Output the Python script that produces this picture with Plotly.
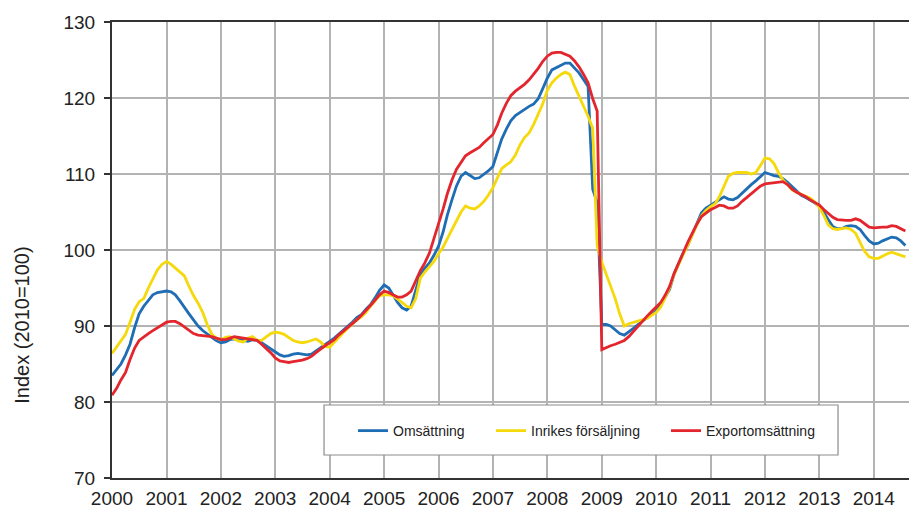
import pandas as pd
import plotly.graph_objects as go

months = pd.date_range("2000-01-01", "2014-08-01", freq="MS")

omsattning = [
    83.5, 84.3, 85.0, 86.2, 87.6, 89.8, 91.6, 92.6, 93.4, 94.1, 94.4, 94.5,
    94.6, 94.5, 94.1, 93.3, 92.4, 91.6, 90.8, 90.0, 89.4, 88.9, 88.5, 88.1,
    87.8, 87.9, 88.2, 88.3, 88.2, 88.0, 88.0, 88.2, 88.1, 87.8, 87.4, 87.0,
    86.6, 86.2, 86.0, 86.1, 86.3, 86.4, 86.3, 86.2, 86.3, 86.7, 87.1, 87.6,
    88.0, 88.4, 88.9, 89.4, 89.9, 90.5, 91.1, 91.5, 92.2, 92.8, 93.7, 94.7,
    95.4, 95.0, 94.1, 93.1, 92.4, 92.1, 92.6, 94.6, 96.8, 97.6, 98.3, 99.3,
    100.5, 102.4, 104.6, 106.6, 108.4, 109.7, 110.2, 109.8, 109.4, 109.5, 109.9, 110.4,
    111.0, 112.8, 114.6, 115.9, 117.0, 117.7, 118.1, 118.5, 118.9, 119.2, 119.9, 121.2,
    122.6, 123.7, 124.0, 124.3, 124.6, 124.6, 124.0, 123.3, 122.4, 121.5, 108.0, 106.2,
    90.2, 90.2, 90.0, 89.5, 89.0, 88.8, 89.2, 89.7, 90.2, 90.7, 91.1, 91.5,
    92.0, 92.8, 93.7, 94.8, 96.8, 98.3, 99.6, 100.6, 102.0, 103.5, 104.9, 105.5,
    105.9, 106.3, 106.7, 107.0, 106.7, 106.6, 106.9, 107.5, 108.1, 108.6, 109.1, 109.7,
    110.2, 110.0, 109.8, 109.7, 109.4, 108.9, 108.3, 107.7, 107.2, 106.9, 106.6, 106.2,
    105.7, 104.9, 104.0, 103.1, 102.8, 102.8, 103.1, 103.2, 103.1, 102.7, 101.9, 101.2,
    100.8, 100.9, 101.2, 101.5, 101.7, 101.6, 101.2, 100.6,
]

inrikes = [
    86.4, 87.2, 88.1, 88.9, 90.5, 92.2, 93.2, 93.6, 95.0, 96.2, 97.4, 98.1,
    98.5, 98.1, 97.6, 97.1, 96.6, 95.2, 94.0, 93.0, 91.8, 90.2, 88.9, 88.4,
    88.2, 88.5, 88.6, 88.3, 88.0, 87.9, 88.4, 88.6, 88.1, 88.1, 88.5, 89.0,
    89.2, 89.1, 88.9, 88.5, 88.1, 87.9, 87.8, 87.9, 88.1, 88.3, 87.9, 87.3,
    87.2, 87.8, 88.4, 89.1, 89.7, 90.3, 90.8, 91.2, 91.8, 92.6, 93.3, 94.0,
    94.1, 94.1, 94.0, 93.6, 93.1, 92.6, 92.4, 93.6, 96.3, 97.1, 97.8, 98.5,
    99.5, 100.4, 101.5, 102.7, 103.9, 105.0, 105.8, 105.5, 105.4, 105.8, 106.4, 107.2,
    108.2, 109.6, 110.7, 111.2, 111.6, 112.5, 113.8, 114.8, 115.4, 116.5, 117.8, 119.2,
    121.0, 122.0, 122.6, 123.1, 123.4, 123.1, 121.6, 120.3, 118.9, 117.6, 116.0, 100.6,
    98.4, 96.8, 95.3, 93.6, 91.6, 90.0, 90.3, 90.5, 90.6, 90.8, 91.0, 91.4,
    91.8, 92.5, 93.6, 95.0, 96.8, 98.2, 99.4, 100.6, 102.0, 103.3, 104.5, 105.2,
    105.7, 106.1, 107.0, 108.5, 109.7, 110.1, 110.2, 110.2, 110.2, 110.0, 110.2, 111.1,
    112.1, 112.0, 111.4, 110.2, 109.2, 108.6, 107.9, 107.6, 107.3, 107.1, 106.8, 106.3,
    105.6, 104.5, 103.3, 102.8, 102.7, 102.8, 102.9, 102.7, 102.2, 101.0, 99.8, 99.1,
    98.9, 98.9, 99.2, 99.5, 99.7, 99.5, 99.3, 99.1,
]

export = [
    80.9, 81.8, 82.9, 83.9, 85.6, 87.1, 88.1, 88.6, 89.0, 89.4, 89.8, 90.2,
    90.5, 90.6, 90.6, 90.3, 89.9, 89.5, 89.0, 88.8, 88.7, 88.7, 88.6, 88.4,
    88.2, 88.2, 88.4, 88.6, 88.5, 88.4, 88.4, 88.3, 88.1, 87.6, 87.1, 86.5,
    85.8, 85.4, 85.3, 85.2, 85.3, 85.4, 85.5, 85.7, 86.0, 86.5, 87.0, 87.4,
    87.8, 88.2, 88.8, 89.3, 89.8, 90.3, 90.8, 91.4, 92.0, 92.7, 93.4, 94.1,
    94.6, 94.4, 94.1, 93.8, 93.8, 94.1, 94.6, 95.9, 97.3, 98.3, 99.6, 101.5,
    103.4, 105.4, 107.4, 109.2, 110.6, 111.6, 112.4, 112.8, 113.2, 113.5, 114.1, 114.6,
    115.2, 116.5, 118.0, 119.3, 120.3, 120.9, 121.3, 121.8, 122.4, 123.1, 123.9, 124.8,
    125.5, 125.9, 126.0, 126.0, 125.8, 125.5, 124.9, 124.1, 123.1, 122.0, 119.9, 118.3,
    86.9, 87.2, 87.4, 87.6, 87.8, 88.1, 88.6, 89.3, 89.9, 90.6, 91.3, 91.9,
    92.5, 93.1, 94.0, 95.2, 96.9, 98.2, 99.6, 101.0, 102.3, 103.4, 104.4, 104.9,
    105.3, 105.6, 105.9, 105.8, 105.5, 105.5, 105.8, 106.4, 106.9, 107.5, 108.0, 108.4,
    108.7, 108.8, 108.9, 109.0, 109.0, 108.6, 108.0, 107.6, 107.3, 107.0, 106.6, 106.3,
    105.9, 105.3, 104.8, 104.3, 104.0, 103.9, 103.9, 103.9, 104.1, 103.9, 103.5, 103.0,
    102.9, 103.0, 103.0, 103.0, 103.2, 103.1, 102.8, 102.5,
]

series_names = ["Omsättning", "Inrikes försäljning", "Exportomsättning"]
series_values = [omsattning, inrikes, export]
series_colors = ["#1f6db5", "#f5d90a", "#e3262e"]

y_ticks = [70, 80, 90, 100, 110, 120, 130]
y_title = "Index (2010=100)"

legend_ids = ["legend", "legend2", "legend3"]
legend_x = [0.2994, 0.4708, 0.6882]

fig = go.Figure()
for name, vals, col, lid in zip(series_names, series_values, series_colors, legend_ids):
    fig.add_trace(go.Scatter(x=months, y=vals, mode="lines", name=name, legend=lid,
                             line=dict(color=col, width=2.8, shape="linear")))

font_main = "Liberation Sans, Arial, sans-serif"

legend_style = dict(orientation="h", xanchor="left", y=0.103, yanchor="middle",
                    bgcolor="rgba(0,0,0,0)", borderwidth=0,
                    font=dict(size=14, color="#222222"))

# page body has an 8px default margin, so the figure is drawn 8px smaller
fig.update_layout(
    width=909, height=508,
    margin=dict(l=104, r=0, t=14, b=38),
    paper_bgcolor="white", plot_bgcolor="white",
    font=dict(family=font_main, color="#222222"),
    showlegend=True,
    legend=dict(x=legend_x[0], **legend_style),
    legend2=dict(x=legend_x[1], **legend_style),
    legend3=dict(x=legend_x[2], **legend_style),
    shapes=[dict(type="rect", xref="paper", yref="paper",
                 x0=0.2634, x1=0.9019, y0=0.0504, y1=0.1601,
                 fillcolor="white", line=dict(color="#8c8c8c", width=1.2),
                 layer="above")],
    annotations=[dict(text=y_title, xref="paper", yref="paper",
                      x=-0.1122, y=0.3355, textangle=-90, showarrow=False,
                      font=dict(size=20, color="#222222"),
                      xanchor="center", yanchor="middle")],
)

fig.update_xaxes(
    type="date",
    range=["2000-01-01", "2014-10-18"],
    tick0="2000-01-01", dtick="M12", tickformat="%Y",
    showgrid=True, gridcolor="#b3b3b3", gridwidth=1.5,
    showline=True, linecolor="#333333", linewidth=2, mirror=True,
    ticks="", tickfont=dict(size=19, color="#222222"),
    ticklabelstandoff=2,
    zeroline=False,
)
fig.update_yaxes(
    range=[70, 130], tickvals=y_ticks,
    showgrid=True, gridcolor="#b3b3b3", gridwidth=1.5,
    showline=True, linecolor="#333333", linewidth=2,
    ticks="outside", ticklen=6, tickcolor="#333333", tickwidth=1.5,
    tickfont=dict(size=19, color="#222222"),
    ticklabelstandoff=5,
    zeroline=False,
)

fig.write_html("out.html")
